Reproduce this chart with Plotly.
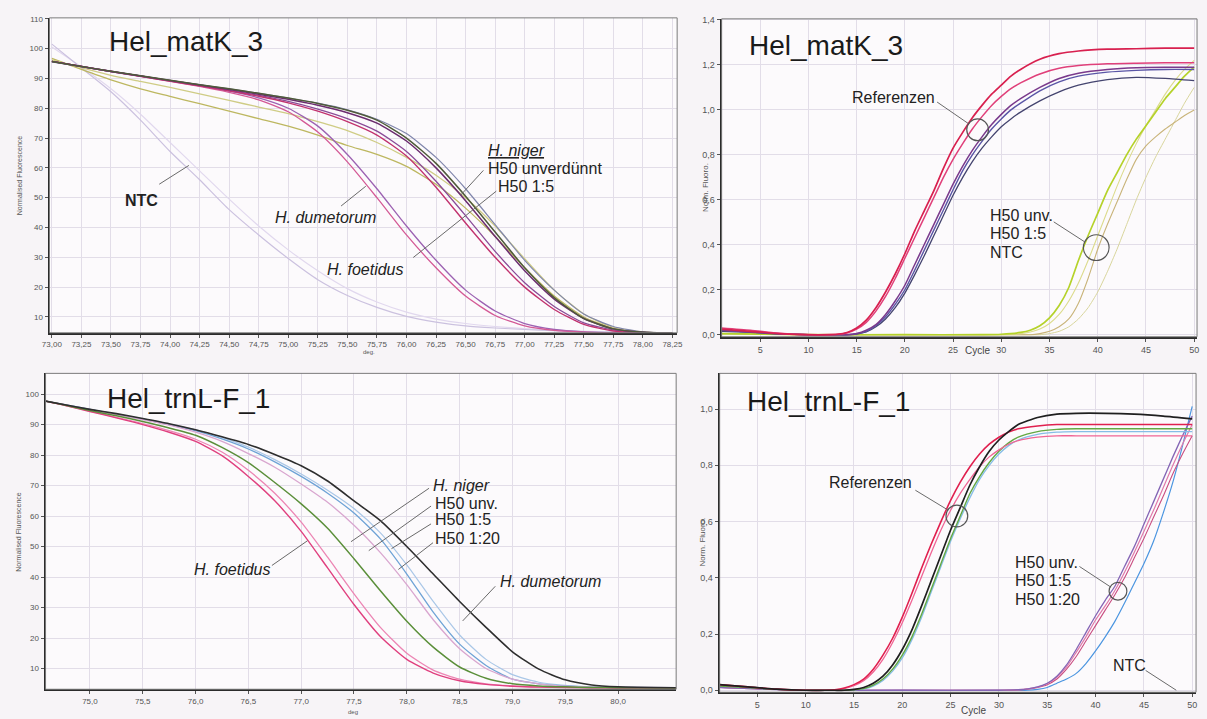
import plotly.graph_objects as go

W, H = 1207, 719
FONT = "Liberation Sans, Arial, sans-serif"

# ---------------- Data: top-left melt curves (Hel_matK_3) ----------------
tl_deg = [73.0, 73.25, 73.5, 73.75, 74.0, 74.25, 74.5, 74.75, 75.0, 75.25, 75.5, 75.75,
          76.0, 76.25, 76.5, 76.75, 77.0, 77.25, 77.5, 77.75, 78.0, 78.25]
tl_ntc_a = [101.5, 93.5, 85.5, 76.0, 65.5, 56.0, 46.0, 37.5, 29.6, 22.5, 17.2, 13.2, 10.2, 8.3, 7.0, 6.3, 5.8, 5.4, 5.1, 4.9, 4.8, 4.7]
tl_ntc_b = [100.5, 93.8, 86.5, 78.0, 68.5, 59.0, 49.5, 40.5, 32.5, 25.5, 19.5, 15.0, 11.6, 9.3, 7.8, 6.8, 6.1, 5.6, 5.2, 5.0, 4.8, 4.7]
tl_niger = [95.7, 94.0, 92.4, 90.9, 89.4, 87.9, 86.5, 85.0, 83.4, 81.6, 79.3, 76.0, 70.0, 61.5, 50.5, 38.5, 26.5, 16.5, 9.5, 6.0, 4.9, 4.6]
tl_ref_purple = [95.7, 94.0, 92.3, 90.8, 89.3, 87.8, 86.3, 84.7, 83.0, 81.0, 78.5, 75.0, 69.0, 60.0, 49.0, 37.0, 25.5, 16.0, 9.5, 6.0, 4.9, 4.6]
tl_ref_blue = [95.5, 93.9, 92.3, 90.8, 89.3, 87.9, 86.5, 85.0, 83.4, 81.7, 79.5, 76.3, 71.5, 63.5, 53.0, 41.0, 29.0, 19.0, 11.0, 6.8, 5.0, 4.6]
tl_h50_unv = [96.2, 93.6, 91.0, 89.0, 87.0, 84.8, 82.6, 80.4, 78.2, 75.5, 72.5, 68.5, 63.5, 57.5, 50.0, 40.5, 29.5, 19.0, 11.0, 6.5, 5.0, 4.6]
tl_h50_15 = [96.7, 93.0, 89.5, 86.5, 84.0, 81.5, 79.0, 76.5, 74.0, 71.0, 67.5, 64.5, 60.5, 54.5, 46.5, 37.0, 26.5, 17.0, 10.0, 6.2, 4.9, 4.6]
tl_foet_a = [95.7, 94.0, 92.3, 90.7, 89.1, 87.5, 85.8, 84.0, 81.8, 79.0, 75.5, 71.0, 64.0, 53.5, 41.5, 30.0, 20.0, 12.5, 7.5, 5.3, 4.7, 4.5]
tl_foet_b = [95.7, 94.0, 92.4, 90.8, 89.2, 87.6, 86.0, 84.3, 82.3, 79.7, 76.5, 72.3, 65.5, 55.5, 44.0, 32.0, 21.5, 13.5, 8.0, 5.6, 4.8, 4.5]
tl_dum_a = [95.7, 94.0, 92.3, 90.7, 89.0, 87.3, 85.3, 82.8, 78.8, 72.0, 62.0, 50.0, 37.5, 26.5, 17.0, 10.5, 7.0, 5.5, 4.9, 4.6, 4.5, 4.5]
tl_dum_b = [95.7, 94.0, 92.4, 90.8, 89.2, 87.5, 85.7, 83.5, 80.0, 74.0, 64.5, 53.0, 40.5, 29.0, 19.0, 12.0, 7.8, 5.8, 5.0, 4.7, 4.5, 4.5]
tl_xticks = [73.0, 73.25, 73.5, 73.75, 74.0, 74.25, 74.5, 74.75, 75.0, 75.25, 75.5, 75.75,
             76.0, 76.25, 76.5, 76.75, 77.0, 77.25, 77.5, 77.75, 78.0, 78.25]
tl_yticks = [10, 20, 30, 40, 50, 60, 70, 80, 90, 100, 110]

# ---------------- Data: top-right amplification (Hel_matK_3) ----------------
tr_cyc = [1, 4, 7, 10, 12, 13, 14, 15, 16, 17, 18, 19, 20, 21, 22, 23, 24, 25, 26, 27, 28, 29, 30, 31, 32, 34, 36, 38, 41, 44, 47, 50]
tr_ref_red = [0.025, 0.015, 0.005, 0.0, 0.0, 0.002, 0.01, 0.03, 0.065, 0.12, 0.19, 0.27, 0.36, 0.46, 0.55, 0.64, 0.74, 0.83, 0.90, 0.965, 1.02, 1.07, 1.11, 1.15, 1.18, 1.225, 1.25, 1.262, 1.27, 1.272, 1.275, 1.275]
tr_ref_pink = [0.03, 0.02, 0.007, 0.0, 0.0, 0.002, 0.008, 0.025, 0.055, 0.105, 0.17, 0.25, 0.34, 0.43, 0.52, 0.61, 0.70, 0.78, 0.85, 0.915, 0.97, 1.02, 1.06, 1.095, 1.12, 1.16, 1.185, 1.197, 1.205, 1.208, 1.21, 1.21]
tr_ref_purple = [0.02, 0.012, 0.004, 0.0, 0.0, 0.0, 0.0, 0.005, 0.02, 0.045, 0.09, 0.15, 0.22, 0.31, 0.40, 0.49, 0.58, 0.67, 0.75, 0.82, 0.88, 0.935, 0.98, 1.02, 1.05, 1.10, 1.14, 1.163, 1.18, 1.188, 1.19, 1.19]
tr_ref_blue = [0.02, 0.012, 0.004, 0.0, 0.0, 0.0, 0.0, 0.004, 0.015, 0.04, 0.08, 0.135, 0.20, 0.285, 0.375, 0.465, 0.555, 0.645, 0.73, 0.80, 0.86, 0.915, 0.96, 1.0, 1.03, 1.085, 1.125, 1.15, 1.168, 1.176, 1.18, 1.18]
tr_ref_navy = [0.015, 0.01, 0.003, 0.0, 0.0, 0.0, 0.0, 0.003, 0.012, 0.035, 0.07, 0.12, 0.185, 0.265, 0.35, 0.44, 0.53, 0.62, 0.70, 0.77, 0.83, 0.88, 0.925, 0.96, 0.99, 1.04, 1.08, 1.11, 1.135, 1.145, 1.14, 1.13]
tr_late_cyc = [1, 10, 20, 28, 30, 32, 33, 34, 35, 36, 37, 38, 39, 40, 41, 42, 43, 44, 45, 46, 47, 48, 49, 50]
tr_h50_unv = [0.005, 0.0, 0.0, 0.0, 0.002, 0.01, 0.02, 0.04, 0.075, 0.13, 0.21, 0.33, 0.44, 0.54, 0.64, 0.72, 0.80, 0.87, 0.93, 0.99, 1.05, 1.10, 1.15, 1.19]
tr_h50_15 = [0.005, 0.0, 0.0, 0.0, 0.0, 0.005, 0.012, 0.025, 0.05, 0.09, 0.15, 0.23, 0.33, 0.44, 0.55, 0.66, 0.76, 0.85, 0.93, 1.0, 1.07, 1.13, 1.18, 1.22]
tr_h50_tan = [0.005, 0.0, 0.0, 0.0, 0.0, 0.0, 0.0, 0.005, 0.015, 0.035, 0.07, 0.14, 0.25, 0.38, 0.49, 0.59, 0.69, 0.78, 0.84, 0.88, 0.915, 0.945, 0.975, 1.0]
tr_ntc = [0.005, 0.0, 0.0, 0.0, 0.0, 0.0, 0.0, 0.0, 0.005, 0.015, 0.035, 0.07, 0.12, 0.19, 0.28, 0.38, 0.49, 0.60, 0.70, 0.79, 0.87, 0.95, 1.03, 1.10]
tr_xticks = [5, 10, 15, 20, 25, 30, 35, 40, 45, 50]
tr_yticks = [0.0, 0.2, 0.4, 0.6, 0.8, 1.0, 1.2, 1.4]

# ---------------- Data: bottom-left melt curves (Hel_trnL-F_1) ----------------
bl_deg = [74.58, 74.75, 75.0, 75.25, 75.5, 75.75, 76.0, 76.25, 76.5, 76.75, 77.0, 77.25,
          77.5, 77.75, 78.0, 78.25, 78.5, 78.75, 79.0, 79.25, 79.5, 79.75, 80.0, 80.55]
bl_dum = [97.7, 96.6, 95.0, 93.6, 92.0, 90.3, 88.3, 86.0, 83.5, 80.2, 76.5, 71.5, 65.0, 58.5, 50.0, 41.0, 32.0, 23.5, 15.5, 9.8, 6.3, 4.6, 4.0, 3.7]
bl_niger = [97.7, 96.5, 94.6, 92.9, 91.0, 88.9, 86.5, 82.5, 77.5, 71.0, 64.0, 56.0, 46.0, 35.5, 25.5, 17.0, 10.5, 6.8, 5.0, 4.3, 4.0, 3.8, 3.7, 3.6]
bl_foet_a = [97.7, 96.4, 94.3, 92.2, 90.0, 87.5, 84.5, 79.8, 73.0, 65.0, 55.0, 43.0, 31.0, 20.5, 13.0, 8.5, 6.0, 4.8, 4.2, 3.9, 3.8, 3.7, 3.6, 3.6]
bl_foet_b = [97.7, 96.4, 94.4, 92.4, 90.3, 88.0, 85.2, 81.0, 75.0, 67.5, 58.0, 46.5, 34.5, 23.5, 15.0, 9.5, 6.5, 5.0, 4.3, 4.0, 3.8, 3.7, 3.6, 3.6]
bl_h50_unv = [97.7, 96.6, 94.9, 93.3, 91.6, 89.8, 87.5, 84.5, 80.5, 76.0, 70.5, 64.5, 57.0, 48.0, 37.5, 26.0, 16.5, 10.0, 6.5, 5.0, 4.2, 3.9, 3.8, 3.7]
bl_h50_15 = [97.7, 96.6, 95.0, 93.4, 91.8, 90.0, 88.0, 85.3, 82.0, 77.8, 73.0, 67.5, 61.0, 52.5, 41.0, 28.5, 18.0, 11.0, 6.5, 5.0, 4.3, 3.9, 3.8, 3.7]
bl_h50_120 = [97.7, 96.6, 95.0, 93.4, 91.9, 90.2, 88.3, 85.8, 82.6, 78.5, 73.8, 68.5, 62.5, 54.5, 44.0, 32.0, 21.0, 13.0, 8.0, 5.5, 4.5, 4.0, 3.8, 3.7]
bl_xticks = [75.0, 75.5, 76.0, 76.5, 77.0, 77.5, 78.0, 78.5, 79.0, 79.5, 80.0]
bl_yticks = [10, 20, 30, 40, 50, 60, 70, 80, 90, 100]

# ---------------- Data: bottom-right amplification (Hel_trnL-F_1) ----------------
br_cyc = [1, 4, 7, 10, 12, 13, 14, 15, 16, 17, 18, 19, 20, 21, 22, 23, 24, 25, 26, 27, 28, 29, 30, 31, 32, 34, 36, 38, 41, 44, 47, 50]
br_ref_red = [0.02, 0.012, 0.004, 0.0, 0.0, 0.002, 0.008, 0.02, 0.04, 0.075, 0.125, 0.185, 0.26, 0.345, 0.435, 0.52, 0.60, 0.675, 0.74, 0.795, 0.84, 0.875, 0.90, 0.918, 0.93, 0.94, 0.945, 0.945, 0.945, 0.945, 0.945, 0.945]
br_ref_pink = [0.02, 0.012, 0.004, 0.0, 0.0, 0.001, 0.006, 0.016, 0.034, 0.065, 0.11, 0.17, 0.24, 0.32, 0.405, 0.49, 0.57, 0.64, 0.70, 0.75, 0.795, 0.83, 0.855, 0.875, 0.888, 0.90, 0.905, 0.905, 0.905, 0.905, 0.905, 0.905]
br_ref_black = [0.02, 0.012, 0.004, 0.0, 0.0, 0.0, 0.0, 0.003, 0.01, 0.025, 0.05, 0.09, 0.145, 0.215, 0.30, 0.39, 0.48, 0.57, 0.65, 0.73, 0.795, 0.85, 0.89, 0.92, 0.945, 0.97, 0.982, 0.985, 0.985, 0.982, 0.975, 0.965]
br_ref_green = [0.015, 0.01, 0.003, 0.0, 0.0, 0.0, 0.0, 0.002, 0.006, 0.018, 0.04, 0.075, 0.125, 0.19, 0.27, 0.36, 0.45, 0.54, 0.62, 0.70, 0.76, 0.81, 0.85, 0.88, 0.90, 0.92, 0.928, 0.93, 0.93, 0.93, 0.93, 0.93]
br_ref_blue = [0.015, 0.01, 0.003, 0.0, 0.0, 0.0, 0.0, 0.002, 0.005, 0.015, 0.035, 0.068, 0.115, 0.18, 0.26, 0.35, 0.44, 0.53, 0.61, 0.685, 0.75, 0.80, 0.84, 0.87, 0.89, 0.91, 0.918, 0.92, 0.92, 0.92, 0.92, 0.92]
br_late_cyc = [1, 10, 20, 30, 32, 33, 34, 35, 36, 37, 38, 39, 40, 41, 42, 43, 44, 45, 46, 47, 48, 49, 50]
br_h50_unv = [0.01, 0.0, 0.0, 0.0, 0.002, 0.005, 0.012, 0.025, 0.05, 0.09, 0.145, 0.205, 0.265, 0.32, 0.37, 0.44, 0.51, 0.59, 0.67, 0.75, 0.83, 0.905, 0.975]
br_h50_15 = [0.01, 0.0, 0.0, 0.0, 0.002, 0.005, 0.011, 0.023, 0.046, 0.083, 0.135, 0.19, 0.25, 0.30, 0.355, 0.42, 0.49, 0.565, 0.64, 0.72, 0.80, 0.875, 0.945]
br_h50_120 = [0.01, 0.0, 0.0, 0.0, 0.001, 0.004, 0.01, 0.02, 0.04, 0.075, 0.12, 0.175, 0.23, 0.285, 0.34, 0.40, 0.47, 0.54, 0.615, 0.69, 0.77, 0.84, 0.905]
br_ntc = [0.01, 0.0, 0.0, 0.0, 0.0, 0.0, 0.003, 0.01, 0.025, 0.04, 0.06, 0.095, 0.14, 0.19, 0.245, 0.31, 0.38, 0.45, 0.53, 0.63, 0.74, 0.87, 1.01]
br_xticks = [5, 10, 15, 20, 25, 30, 35, 40, 45, 50]
br_yticks = [0.0, 0.2, 0.4, 0.6, 0.8, 1.0]

# ---------------- Figure ----------------
fig = go.Figure()


def line(x, y, color, width, ax):
    fig.add_trace(go.Scatter(x=x, y=y, mode="lines", xaxis="x" + ax, yaxis="y" + ax,
                             line=dict(color=color, width=width, shape="spline", smoothing=0.6),
                             hoverinfo="skip", showlegend=False))


# top-left
line(tl_deg, tl_ntc_b, "#e1d8ee", 1.2, "")
line(tl_deg, tl_ntc_a, "#cbc1df", 1.2, "")
line(tl_deg, tl_h50_15, "#bdb760", 1.3, "")
line(tl_deg, tl_h50_unv, "#cfcc85", 1.3, "")
line(tl_deg, tl_dum_b, "#9c62b2", 1.3, "")
line(tl_deg, tl_dum_a, "#d45a96", 1.3, "")
line(tl_deg, tl_foet_b, "#8a4c98", 1.3, "")
line(tl_deg, tl_foet_a, "#c2336f", 1.4, "")
line(tl_deg, tl_ref_blue, "#8086ac", 1.2, "")
line(tl_deg, tl_ref_purple, "#6b2c6e", 1.5, "")
line(tl_deg, tl_niger, "#4f5a3a", 1.5, "")

# top-right
line(tr_late_cyc, tr_ntc, "#d8d59c", 1.0, "2")
line(tr_late_cyc, tr_h50_tan, "#c9b47a", 1.1, "2")
line(tr_late_cyc, tr_h50_15, "#dcdb8c", 1.1, "2")
line(tr_late_cyc, tr_h50_unv, "#b5d22a", 1.7, "2")
line(tr_cyc, tr_ref_navy, "#44446f", 1.3, "2")
line(tr_cyc, tr_ref_blue, "#5a55a6", 1.4, "2")
line(tr_cyc, tr_ref_purple, "#7a3a8c", 1.5, "2")
line(tr_cyc, tr_ref_pink, "#e0407a", 1.5, "2")
line(tr_cyc, tr_ref_red, "#d8204f", 1.7, "2")

# bottom-left
line(bl_deg, bl_h50_120, "#aac7e7", 1.2, "3")
line(bl_deg, bl_h50_15, "#6fa3d6", 1.3, "3")
line(bl_deg, bl_h50_unv, "#d9a6cf", 1.3, "3")
line(bl_deg, bl_foet_b, "#ec86b4", 1.3, "3")
line(bl_deg, bl_foet_a, "#e0407f", 1.4, "3")
line(bl_deg, bl_niger, "#5b8f3a", 1.5, "3")
line(bl_deg, bl_dum, "#2e2e2e", 1.6, "3")

# bottom-right
line(br_late_cyc, br_ntc, "#4b95e0", 1.2, "4")
line(br_late_cyc, br_h50_120, "#c94d80", 1.1, "4")
line(br_late_cyc, br_h50_15, "#e07aaa", 1.2, "4")
line(br_late_cyc, br_h50_unv, "#8465b5", 1.3, "4")
line(br_cyc, br_ref_blue, "#86bde6", 1.3, "4")
line(br_cyc, br_ref_green, "#63a843", 1.4, "4")
line(br_cyc, br_ref_pink, "#f06595", 1.3, "4")
line(br_cyc, br_ref_red, "#e0204f", 1.6, "4")
line(br_cyc, br_ref_black, "#1f1f1f", 1.7, "4")


def dom_x(a, b):
    return [a / W, b / W]


def dom_y(top, bottom):
    return [1 - bottom / H, 1 - top / H]


def axis(domain, rng, ticks, fmt, anchor, size):
    return dict(domain=domain, range=rng, tickvals=ticks, tickformat=fmt, anchor=anchor,
                showline=True, linecolor="#2b2b2b", linewidth=2, mirror=False,
                showgrid=True, gridcolor="#e2dde8", gridwidth=1, zeroline=False,
                ticks="outside", ticklen=3, tickcolor="#555",
                tickfont=dict(family=FONT, size=size, color="#555"))


layout = dict(
    width=W, height=H, autosize=False, margin=dict(l=0, r=0, t=0, b=0),
    paper_bgcolor="#f7f4f7", plot_bgcolor="#fcfafc", separators=",.", showlegend=False,
    xaxis=axis(dom_x(42, 677), [72.98, 78.29], tl_xticks, ".2f", "y", 8),
    yaxis=axis(dom_y(14, 332), [4.7, 110.3], tl_yticks, "d", "x", 8),
    xaxis2=axis(dom_x(722, 1203), [1.0, 50.3], tr_xticks, "d", "y2", 9),
    yaxis2=axis(dom_y(15, 336), [-0.009, 1.405], tr_yticks, ".1f", "x2", 9),
    xaxis3=axis(dom_x(38, 676), [74.58, 80.55], bl_xticks, ".1f", "y3", 8),
    yaxis3=axis(dom_y(373, 692), [3.2, 106.8], bl_yticks, "d", "x3", 8),
    xaxis4=axis(dom_x(720, 1202), [1.1, 50.4], br_xticks, "d", "y4", 9),
    yaxis4=axis(dom_y(373, 695), [-0.007, 1.127], br_yticks, ".1f", "x4", 9),
)
fig.update_layout(**layout)

ann = []
shapes = []


def note(text, x, y, size=16, color="#222", angle=0, anchor="left"):
    ann.append(dict(text=text, x=x / W, y=1 - y / H, xref="paper", yref="paper",
                    xanchor=anchor, yanchor="middle", showarrow=False, textangle=angle,
                    font=dict(family=FONT, size=size, color=color)))


def seg(x0, y0, x1, y1):
    shapes.append(dict(type="line", xref="paper", yref="paper", x0=x0 / W, y0=1 - y0 / H,
                       x1=x1 / W, y1=1 - y1 / H, line=dict(color="#6a6a6a", width=1)))


def ring(cx, cy, r):
    shapes.append(dict(type="circle", xref="paper", yref="paper", x0=(cx - r) / W, x1=(cx + r) / W,
                       y0=1 - (cy + r) / H, y1=1 - (cy - r) / H, line=dict(color="#555", width=1.2)))


# panel frames (thin top/right borders)
for ax in ["", "2", "3", "4"]:
    shapes.append(dict(type="rect", xref="x%s domain" % ax, yref="y%s domain" % ax,
                       x0=0, x1=1, y0=0, y1=1, line=dict(color="#7a7a7a", width=1), layer="above"))

# titles
note("Hel_matK_3", 100, 38, 28, "#1a1a1a")
note("Hel_matK_3", 748, 42, 28, "#1a1a1a")
note("Hel_trnL-F_1", 98, 398, 28, "#1a1a1a")
note("Hel_trnL-F_1", 746, 401, 28, "#1a1a1a")

# axis titles
note("Normalised Fluorescence", 11, 173, 7, "#555", -90, "center")
note("Normalised Fluorescence", 11, 533, 7, "#555", -90, "center")
note("Norm. Fluoro.", 705, 185, 8, "#555", -90, "center")
note("Norm. Fluoro.", 703, 543, 8, "#555", -90, "center")
note("deg.", 365, 351, 6, "#555", 0, "center")
note("deg", 349, 715, 6, "#555", 0, "center")
note("Cycle", 981, 350, 10, "#444", 0, "center")
note("Cycle", 977, 713, 10, "#444", 0, "center")

# top-left labels
note("<b>NTC</b>", 116, 198, 16)
seg(153, 182, 183, 163)
note("<i>H. dumetorum</i>", 268, 216, 16)
seg(337, 204, 362, 184)
note("<i>H. foetidus</i>", 321, 268, 16)
seg(410, 256, 494, 189)
note("<i><u>H. niger</u></i>", 484, 148, 16)
note("H50 unverdünnt", 484, 166, 16)
note("H50 1:5", 494, 184, 16)
seg(481, 168, 458, 193)

# top-right labels
note("Referenzen", 852, 94, 16)
seg(940, 99, 972, 121)
ring(981, 127, 11)
note("H50 unv.", 991, 214, 16)
note("H50 1:5", 991, 232, 16)
note("NTC", 991, 251, 16)
seg(1058, 220, 1089, 240)
ring(1101, 246, 13)

# bottom-left labels
note("<i>H. foetidus</i>", 186, 571, 16)
seg(267, 567, 303, 542)
note("<i>H. niger</i>", 428, 486, 16)
note("H50 unv.", 430, 504, 16)
note("H50 1:5", 430, 521, 16)
note("H50 1:20", 430, 540, 16)
seg(426, 489, 347, 543)
seg(428, 507, 365, 552)
seg(428, 525, 388, 550)
seg(430, 544, 395, 571)
note("<i>H. dumetorum</i>", 496, 583, 16)
seg(493, 588, 460, 623)

# bottom-right labels
note("Referenzen", 829, 483, 16)
seg(918, 491, 951, 511)
ring(960, 517, 11)
note("H50 unv.", 1017, 564, 16)
note("H50 1:5", 1017, 582, 16)
note("H50 1:20", 1017, 601, 16)
seg(1084, 568, 1116, 589)
ring(1123, 593, 9)
note("NTC", 1116, 668, 16)
seg(1151, 673, 1182, 693)

fig.update_layout(annotations=ann, shapes=shapes)
fig.write_html("out.html")
